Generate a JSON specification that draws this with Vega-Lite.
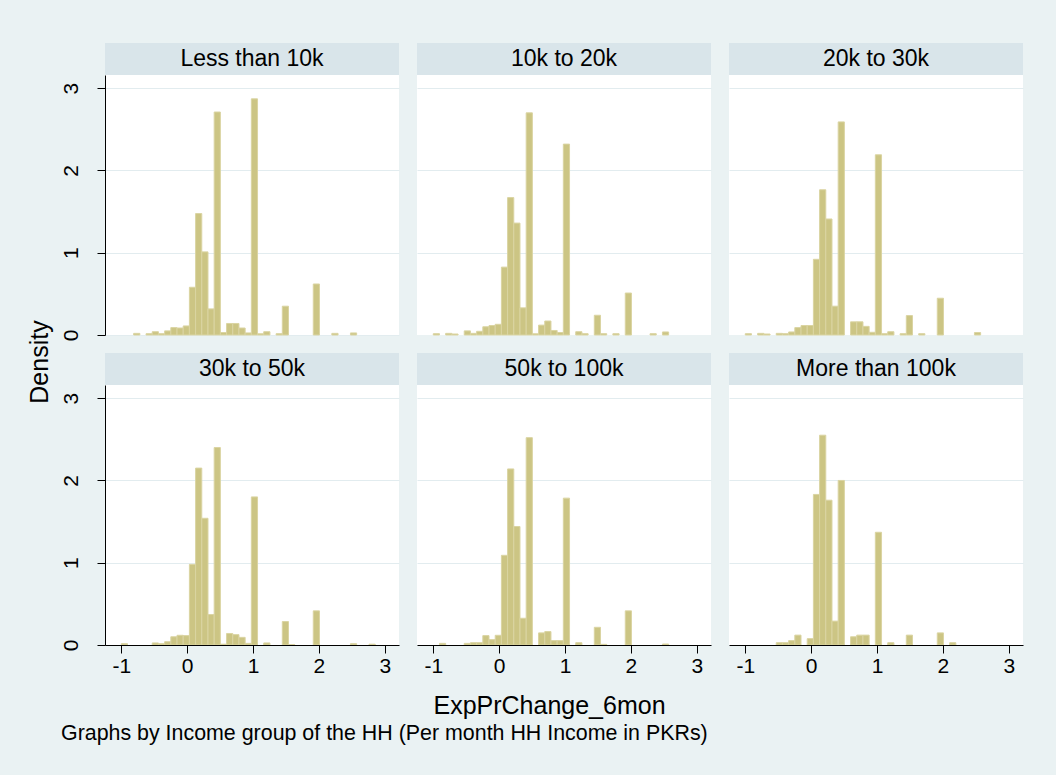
{
  "$schema": "https://vega.github.io/schema/vega-lite/v6.json",
  "background": "#EAF2F3",
  "padding": {"left": 20, "top": 43, "right": 33, "bottom": 30},
  "config": {
    "font": "Liberation Sans",
    "view": {"stroke": null},
    "axis": {
      "labelFont": "Liberation Sans",
      "labelColor": "#000000",
      "labelFontSize": 21,
      "labelExpr": "replace(datum.label, '\u2212', '-')",
      "domainColor": "#000000",
      "tickColor": "#000000",
      "tickSize": 8,
      "gridColor": "#E2ECEF",
      "gridWidth": 1.2,
      "titleFont": "Liberation Sans",
      "titleFontWeight": "normal",
      "titleColor": "#000000"
    },
    "title": {"font": "Liberation Sans", "fontWeight": "normal", "color": "#000000"}
  },
  "title": {
    "text": "Graphs by Income group of the HH (Per month HH Income in PKRs)",
    "orient": "bottom",
    "anchor": "start",
    "fontSize": 21.4,
    "dx": 41,
    "offset": 5
  },
  "datasets": {
    "hist": [
      {"g": "Less than 10k", "lo": -0.812, "hi": -0.718, "d": 0.02},
      {"g": "Less than 10k", "lo": -0.624, "hi": -0.53, "d": 0.016},
      {"g": "Less than 10k", "lo": -0.53, "hi": -0.436, "d": 0.04},
      {"g": "Less than 10k", "lo": -0.436, "hi": -0.342, "d": 0.016},
      {"g": "Less than 10k", "lo": -0.342, "hi": -0.248, "d": 0.05},
      {"g": "Less than 10k", "lo": -0.248, "hi": -0.154, "d": 0.09},
      {"g": "Less than 10k", "lo": -0.154, "hi": -0.06, "d": 0.085},
      {"g": "Less than 10k", "lo": -0.06, "hi": 0.034, "d": 0.11},
      {"g": "Less than 10k", "lo": 0.034, "hi": 0.128, "d": 0.58},
      {"g": "Less than 10k", "lo": 0.128, "hi": 0.222, "d": 1.476},
      {"g": "Less than 10k", "lo": 0.222, "hi": 0.316, "d": 1.01},
      {"g": "Less than 10k", "lo": 0.316, "hi": 0.41, "d": 0.317},
      {"g": "Less than 10k", "lo": 0.41, "hi": 0.504, "d": 2.71},
      {"g": "Less than 10k", "lo": 0.504, "hi": 0.598, "d": 0.03},
      {"g": "Less than 10k", "lo": 0.598, "hi": 0.692, "d": 0.14},
      {"g": "Less than 10k", "lo": 0.692, "hi": 0.786, "d": 0.14},
      {"g": "Less than 10k", "lo": 0.786, "hi": 0.88, "d": 0.085},
      {"g": "Less than 10k", "lo": 0.88, "hi": 0.974, "d": 0.025},
      {"g": "Less than 10k", "lo": 0.974, "hi": 1.068, "d": 2.87},
      {"g": "Less than 10k", "lo": 1.068, "hi": 1.162, "d": 0.015},
      {"g": "Less than 10k", "lo": 1.162, "hi": 1.256, "d": 0.04},
      {"g": "Less than 10k", "lo": 1.35, "hi": 1.444, "d": 0.016},
      {"g": "Less than 10k", "lo": 1.444, "hi": 1.538, "d": 0.35},
      {"g": "Less than 10k", "lo": 1.914, "hi": 2.008, "d": 0.62},
      {"g": "Less than 10k", "lo": 2.196, "hi": 2.29, "d": 0.02},
      {"g": "Less than 10k", "lo": 2.478, "hi": 2.572, "d": 0.025},

      {"g": "10k to 20k", "lo": -1.0, "hi": -0.906, "d": 0.016},
      {"g": "10k to 20k", "lo": -0.812, "hi": -0.718, "d": 0.02},
      {"g": "10k to 20k", "lo": -0.718, "hi": -0.624, "d": 0.012},
      {"g": "10k to 20k", "lo": -0.53, "hi": -0.436, "d": 0.05},
      {"g": "10k to 20k", "lo": -0.436, "hi": -0.342, "d": 0.02},
      {"g": "10k to 20k", "lo": -0.342, "hi": -0.248, "d": 0.045},
      {"g": "10k to 20k", "lo": -0.248, "hi": -0.154, "d": 0.1},
      {"g": "10k to 20k", "lo": -0.154, "hi": -0.06, "d": 0.115},
      {"g": "10k to 20k", "lo": -0.06, "hi": 0.034, "d": 0.13},
      {"g": "10k to 20k", "lo": 0.034, "hi": 0.128, "d": 0.825},
      {"g": "10k to 20k", "lo": 0.128, "hi": 0.222, "d": 1.67},
      {"g": "10k to 20k", "lo": 0.222, "hi": 0.316, "d": 1.36},
      {"g": "10k to 20k", "lo": 0.316, "hi": 0.41, "d": 0.33},
      {"g": "10k to 20k", "lo": 0.41, "hi": 0.504, "d": 2.7},
      {"g": "10k to 20k", "lo": 0.504, "hi": 0.598, "d": 0.015},
      {"g": "10k to 20k", "lo": 0.598, "hi": 0.692, "d": 0.12},
      {"g": "10k to 20k", "lo": 0.692, "hi": 0.786, "d": 0.17},
      {"g": "10k to 20k", "lo": 0.786, "hi": 0.88, "d": 0.055},
      {"g": "10k to 20k", "lo": 0.88, "hi": 0.974, "d": 0.03},
      {"g": "10k to 20k", "lo": 0.974, "hi": 1.068, "d": 2.32},
      {"g": "10k to 20k", "lo": 1.162, "hi": 1.256, "d": 0.04},
      {"g": "10k to 20k", "lo": 1.256, "hi": 1.35, "d": 0.016},
      {"g": "10k to 20k", "lo": 1.444, "hi": 1.538, "d": 0.24},
      {"g": "10k to 20k", "lo": 1.538, "hi": 1.632, "d": 0.016},
      {"g": "10k to 20k", "lo": 1.726, "hi": 1.82, "d": 0.016},
      {"g": "10k to 20k", "lo": 1.914, "hi": 2.008, "d": 0.51},
      {"g": "10k to 20k", "lo": 2.29, "hi": 2.384, "d": 0.016},
      {"g": "10k to 20k", "lo": 2.478, "hi": 2.572, "d": 0.037},

      {"g": "20k to 30k", "lo": -1.0, "hi": -0.906, "d": 0.016},
      {"g": "20k to 30k", "lo": -0.812, "hi": -0.718, "d": 0.02},
      {"g": "20k to 30k", "lo": -0.718, "hi": -0.624, "d": 0.012},
      {"g": "20k to 30k", "lo": -0.53, "hi": -0.436, "d": 0.02},
      {"g": "20k to 30k", "lo": -0.436, "hi": -0.342, "d": 0.016},
      {"g": "20k to 30k", "lo": -0.342, "hi": -0.248, "d": 0.037},
      {"g": "20k to 30k", "lo": -0.248, "hi": -0.154, "d": 0.09},
      {"g": "20k to 30k", "lo": -0.154, "hi": -0.06, "d": 0.115},
      {"g": "20k to 30k", "lo": -0.06, "hi": 0.034, "d": 0.115},
      {"g": "20k to 30k", "lo": 0.034, "hi": 0.128, "d": 0.92},
      {"g": "20k to 30k", "lo": 0.128, "hi": 0.222, "d": 1.765},
      {"g": "20k to 30k", "lo": 0.222, "hi": 0.316, "d": 1.41},
      {"g": "20k to 30k", "lo": 0.316, "hi": 0.41, "d": 0.35},
      {"g": "20k to 30k", "lo": 0.41, "hi": 0.504, "d": 2.59},
      {"g": "20k to 30k", "lo": 0.598, "hi": 0.692, "d": 0.16},
      {"g": "20k to 30k", "lo": 0.692, "hi": 0.786, "d": 0.16},
      {"g": "20k to 30k", "lo": 0.786, "hi": 0.88, "d": 0.105},
      {"g": "20k to 30k", "lo": 0.88, "hi": 0.974, "d": 0.033},
      {"g": "20k to 30k", "lo": 0.974, "hi": 1.068, "d": 2.19},
      {"g": "20k to 30k", "lo": 1.068, "hi": 1.162, "d": 0.016},
      {"g": "20k to 30k", "lo": 1.162, "hi": 1.256, "d": 0.04},
      {"g": "20k to 30k", "lo": 1.35, "hi": 1.444, "d": 0.016},
      {"g": "20k to 30k", "lo": 1.444, "hi": 1.538, "d": 0.236},
      {"g": "20k to 30k", "lo": 1.632, "hi": 1.726, "d": 0.016},
      {"g": "20k to 30k", "lo": 1.914, "hi": 2.008, "d": 0.447},
      {"g": "20k to 30k", "lo": 2.478, "hi": 2.572, "d": 0.03},

      {"g": "30k to 50k", "lo": -1.0, "hi": -0.906, "d": 0.016},
      {"g": "30k to 50k", "lo": -0.53, "hi": -0.436, "d": 0.025},
      {"g": "30k to 50k", "lo": -0.436, "hi": -0.342, "d": 0.016},
      {"g": "30k to 50k", "lo": -0.342, "hi": -0.248, "d": 0.04},
      {"g": "30k to 50k", "lo": -0.248, "hi": -0.154, "d": 0.1},
      {"g": "30k to 50k", "lo": -0.154, "hi": -0.06, "d": 0.118},
      {"g": "30k to 50k", "lo": -0.06, "hi": 0.034, "d": 0.114},
      {"g": "30k to 50k", "lo": 0.034, "hi": 0.128, "d": 0.98},
      {"g": "30k to 50k", "lo": 0.128, "hi": 0.222, "d": 2.15},
      {"g": "30k to 50k", "lo": 0.222, "hi": 0.316, "d": 1.54},
      {"g": "30k to 50k", "lo": 0.316, "hi": 0.41, "d": 0.37},
      {"g": "30k to 50k", "lo": 0.41, "hi": 0.504, "d": 2.4},
      {"g": "30k to 50k", "lo": 0.504, "hi": 0.598, "d": 0.01},
      {"g": "30k to 50k", "lo": 0.598, "hi": 0.692, "d": 0.14},
      {"g": "30k to 50k", "lo": 0.692, "hi": 0.786, "d": 0.126},
      {"g": "30k to 50k", "lo": 0.786, "hi": 0.88, "d": 0.093},
      {"g": "30k to 50k", "lo": 0.88, "hi": 0.974, "d": 0.02},
      {"g": "30k to 50k", "lo": 0.974, "hi": 1.068, "d": 1.8},
      {"g": "30k to 50k", "lo": 1.162, "hi": 1.256, "d": 0.025},
      {"g": "30k to 50k", "lo": 1.444, "hi": 1.538, "d": 0.285},
      {"g": "30k to 50k", "lo": 1.538, "hi": 1.632, "d": 0.005},
      {"g": "30k to 50k", "lo": 1.914, "hi": 2.008, "d": 0.415},
      {"g": "30k to 50k", "lo": 2.478, "hi": 2.572, "d": 0.016},
      {"g": "30k to 50k", "lo": 2.76, "hi": 2.854, "d": 0.01},

      {"g": "50k to 100k", "lo": -0.906, "hi": -0.812, "d": 0.02},
      {"g": "50k to 100k", "lo": -0.53, "hi": -0.436, "d": 0.02},
      {"g": "50k to 100k", "lo": -0.436, "hi": -0.342, "d": 0.028},
      {"g": "50k to 100k", "lo": -0.342, "hi": -0.248, "d": 0.028},
      {"g": "50k to 100k", "lo": -0.248, "hi": -0.154, "d": 0.114},
      {"g": "50k to 100k", "lo": -0.154, "hi": -0.06, "d": 0.065},
      {"g": "50k to 100k", "lo": -0.06, "hi": 0.034, "d": 0.118},
      {"g": "50k to 100k", "lo": 0.034, "hi": 0.128, "d": 1.09},
      {"g": "50k to 100k", "lo": 0.128, "hi": 0.222, "d": 2.14},
      {"g": "50k to 100k", "lo": 0.222, "hi": 0.316, "d": 1.44},
      {"g": "50k to 100k", "lo": 0.316, "hi": 0.41, "d": 0.325},
      {"g": "50k to 100k", "lo": 0.41, "hi": 0.504, "d": 2.52},
      {"g": "50k to 100k", "lo": 0.598, "hi": 0.692, "d": 0.147},
      {"g": "50k to 100k", "lo": 0.692, "hi": 0.786, "d": 0.163},
      {"g": "50k to 100k", "lo": 0.786, "hi": 0.88, "d": 0.053},
      {"g": "50k to 100k", "lo": 0.88, "hi": 0.974, "d": 0.053},
      {"g": "50k to 100k", "lo": 0.974, "hi": 1.068, "d": 1.785},
      {"g": "50k to 100k", "lo": 1.162, "hi": 1.256, "d": 0.028},
      {"g": "50k to 100k", "lo": 1.444, "hi": 1.538, "d": 0.215},
      {"g": "50k to 100k", "lo": 1.538, "hi": 1.632, "d": 0.008},
      {"g": "50k to 100k", "lo": 1.914, "hi": 2.008, "d": 0.415},
      {"g": "50k to 100k", "lo": 2.478, "hi": 2.572, "d": 0.012},

      {"g": "More than 100k", "lo": -0.53, "hi": -0.436, "d": 0.028},
      {"g": "More than 100k", "lo": -0.436, "hi": -0.342, "d": 0.028},
      {"g": "More than 100k", "lo": -0.342, "hi": -0.248, "d": 0.053},
      {"g": "More than 100k", "lo": -0.248, "hi": -0.154, "d": 0.12},
      {"g": "More than 100k", "lo": -0.06, "hi": 0.034, "d": 0.077},
      {"g": "More than 100k", "lo": 0.034, "hi": 0.128, "d": 1.83},
      {"g": "More than 100k", "lo": 0.128, "hi": 0.222, "d": 2.55},
      {"g": "More than 100k", "lo": 0.222, "hi": 0.316, "d": 1.76},
      {"g": "More than 100k", "lo": 0.316, "hi": 0.41, "d": 0.29},
      {"g": "More than 100k", "lo": 0.41, "hi": 0.504, "d": 2.0},
      {"g": "More than 100k", "lo": 0.598, "hi": 0.692, "d": 0.1},
      {"g": "More than 100k", "lo": 0.692, "hi": 0.786, "d": 0.12},
      {"g": "More than 100k", "lo": 0.786, "hi": 0.88, "d": 0.12},
      {"g": "More than 100k", "lo": 0.974, "hi": 1.068, "d": 1.37},
      {"g": "More than 100k", "lo": 1.162, "hi": 1.256, "d": 0.028},
      {"g": "More than 100k", "lo": 1.444, "hi": 1.538, "d": 0.12},
      {"g": "More than 100k", "lo": 1.914, "hi": 2.008, "d": 0.147},
      {"g": "More than 100k", "lo": 2.102, "hi": 2.196, "d": 0.028}
    ]
  },
  "spacing": 0,
  "hconcat": [
    {
      "width": 40,
      "height": 638,
      "data": {"values": [{"t": "Density"}]},
      "mark": {"type": "text", "angle": 270, "fontSize": 25, "baseline": "middle", "color": "#000000"},
      "encoding": {"text": {"field": "t"}}
    },
    {
      "spacing": 12,
      "vconcat": [
        {
          "spacing": 18,
          "hconcat": [
            {
              "spacing": 0,
              "vconcat": [
                {
                  "width": 294, "height": 32,
                  "view": {"fill": "#D9E5EA", "stroke": null},
                  "data": {"values": [{"g": "Less than 10k"}]},
                  "mark": {"type": "text", "fontSize": 23, "baseline": "middle", "color": "#000000"},
                  "encoding": {"text": {"field": "g"}}
                },
                {
                  "width": 294, "height": 260,
                  "view": {"fill": "#FFFFFF", "stroke": null},
                  "data": {"name": "hist"},
                  "transform": [{"filter": {"field": "g", "equal": "Less than 10k"}}],
                  "mark": {"type": "bar", "fill": "#CCC584", "stroke": "#DAD4A2", "strokeWidth": 1},
                  "encoding": {
                    "x": {"field": "lo", "type": "quantitative", "scale": {"domain": [-1.247, 3.215], "nice": false, "zero": false}, "axis": null},
                    "x2": {"field": "hi"},
                    "y": {"field": "d", "type": "quantitative", "scale": {"domain": [0, 3.16], "nice": false},
                      "axis": {"values": [0, 1, 2, 3], "format": "d", "title": null, "labelAngle": -90, "labelPadding": 16, "grid": true}},
                    "y2": {"datum": 0}
                  }
                }
              ]
            },
            {
              "spacing": 0,
              "vconcat": [
                {
                  "width": 294, "height": 32,
                  "view": {"fill": "#D9E5EA", "stroke": null},
                  "data": {"values": [{"g": "10k to 20k"}]},
                  "mark": {"type": "text", "fontSize": 23, "baseline": "middle", "color": "#000000"},
                  "encoding": {"text": {"field": "g"}}
                },
                {
                  "width": 294, "height": 260,
                  "view": {"fill": "#FFFFFF", "stroke": null},
                  "data": {"name": "hist"},
                  "transform": [{"filter": {"field": "g", "equal": "10k to 20k"}}],
                  "mark": {"type": "bar", "fill": "#CCC584", "stroke": "#DAD4A2", "strokeWidth": 1},
                  "encoding": {
                    "x": {"field": "lo", "type": "quantitative", "scale": {"domain": [-1.247, 3.215], "nice": false, "zero": false}, "axis": null},
                    "x2": {"field": "hi"},
                    "y": {"field": "d", "type": "quantitative", "scale": {"domain": [0, 3.16], "nice": false},
                      "axis": {"values": [1, 2, 3], "title": null, "labels": false, "ticks": false, "domain": false, "grid": true}},
                    "y2": {"datum": 0}
                  }
                }
              ]
            },
            {
              "spacing": 0,
              "vconcat": [
                {
                  "width": 294, "height": 32,
                  "view": {"fill": "#D9E5EA", "stroke": null},
                  "data": {"values": [{"g": "20k to 30k"}]},
                  "mark": {"type": "text", "fontSize": 23, "baseline": "middle", "color": "#000000"},
                  "encoding": {"text": {"field": "g"}}
                },
                {
                  "width": 294, "height": 260,
                  "view": {"fill": "#FFFFFF", "stroke": null},
                  "data": {"name": "hist"},
                  "transform": [{"filter": {"field": "g", "equal": "20k to 30k"}}],
                  "mark": {"type": "bar", "fill": "#CCC584", "stroke": "#DAD4A2", "strokeWidth": 1},
                  "encoding": {
                    "x": {"field": "lo", "type": "quantitative", "scale": {"domain": [-1.247, 3.215], "nice": false, "zero": false}, "axis": null},
                    "x2": {"field": "hi"},
                    "y": {"field": "d", "type": "quantitative", "scale": {"domain": [0, 3.16], "nice": false},
                      "axis": {"values": [1, 2, 3], "title": null, "labels": false, "ticks": false, "domain": false, "grid": true}},
                    "y2": {"datum": 0}
                  }
                }
              ]
            }
          ]
        },
        {
          "spacing": 18,
          "hconcat": [
            {
              "spacing": 0,
              "vconcat": [
                {
                  "width": 294, "height": 32,
                  "view": {"fill": "#D9E5EA", "stroke": null},
                  "data": {"values": [{"g": "30k to 50k"}]},
                  "mark": {"type": "text", "fontSize": 23, "baseline": "middle", "color": "#000000"},
                  "encoding": {"text": {"field": "g"}}
                },
                {
                  "width": 294, "height": 260,
                  "view": {"fill": "#FFFFFF", "stroke": null},
                  "data": {"name": "hist"},
                  "transform": [{"filter": {"field": "g", "equal": "30k to 50k"}}],
                  "mark": {"type": "bar", "fill": "#CCC584", "stroke": "#DAD4A2", "strokeWidth": 1},
                  "encoding": {
                    "x": {"field": "lo", "type": "quantitative", "scale": {"domain": [-1.247, 3.215], "nice": false, "zero": false},
                      "axis": {"values": [-1, 0, 1, 2, 3], "format": "d", "title": null, "labelPadding": 2, "labelFlush": false, "grid": false, "zindex": 1}},
                    "x2": {"field": "hi"},
                    "y": {"field": "d", "type": "quantitative", "scale": {"domain": [0, 3.16], "nice": false},
                      "axis": {"values": [0, 1, 2, 3], "format": "d", "title": null, "labelAngle": -90, "labelPadding": 16, "grid": true}},
                    "y2": {"datum": 0}
                  }
                }
              ]
            },
            {
              "spacing": 0,
              "vconcat": [
                {
                  "width": 294, "height": 32,
                  "view": {"fill": "#D9E5EA", "stroke": null},
                  "data": {"values": [{"g": "50k to 100k"}]},
                  "mark": {"type": "text", "fontSize": 23, "baseline": "middle", "color": "#000000"},
                  "encoding": {"text": {"field": "g"}}
                },
                {
                  "width": 294, "height": 260,
                  "view": {"fill": "#FFFFFF", "stroke": null},
                  "data": {"name": "hist"},
                  "transform": [{"filter": {"field": "g", "equal": "50k to 100k"}}],
                  "mark": {"type": "bar", "fill": "#CCC584", "stroke": "#DAD4A2", "strokeWidth": 1},
                  "encoding": {
                    "x": {"field": "lo", "type": "quantitative", "scale": {"domain": [-1.247, 3.215], "nice": false, "zero": false},
                      "axis": {"values": [-1, 0, 1, 2, 3], "format": "d", "title": "ExpPrChange_6mon", "titleFontSize": 25, "titleX": 132, "titleY": 68, "titleBaseline": "alphabetic", "labelPadding": 2, "labelFlush": false, "grid": false, "zindex": 1}},
                    "x2": {"field": "hi"},
                    "y": {"field": "d", "type": "quantitative", "scale": {"domain": [0, 3.16], "nice": false},
                      "axis": {"values": [1, 2, 3], "title": null, "labels": false, "ticks": false, "domain": false, "grid": true}},
                    "y2": {"datum": 0}
                  }
                }
              ]
            },
            {
              "spacing": 0,
              "vconcat": [
                {
                  "width": 294, "height": 32,
                  "view": {"fill": "#D9E5EA", "stroke": null},
                  "data": {"values": [{"g": "More than 100k"}]},
                  "mark": {"type": "text", "fontSize": 23, "baseline": "middle", "color": "#000000"},
                  "encoding": {"text": {"field": "g"}}
                },
                {
                  "width": 294, "height": 260,
                  "view": {"fill": "#FFFFFF", "stroke": null},
                  "data": {"name": "hist"},
                  "transform": [{"filter": {"field": "g", "equal": "More than 100k"}}],
                  "mark": {"type": "bar", "fill": "#CCC584", "stroke": "#DAD4A2", "strokeWidth": 1},
                  "encoding": {
                    "x": {"field": "lo", "type": "quantitative", "scale": {"domain": [-1.247, 3.215], "nice": false, "zero": false},
                      "axis": {"values": [-1, 0, 1, 2, 3], "format": "d", "title": null, "labelPadding": 2, "labelFlush": false, "grid": false, "zindex": 1}},
                    "x2": {"field": "hi"},
                    "y": {"field": "d", "type": "quantitative", "scale": {"domain": [0, 3.16], "nice": false},
                      "axis": {"values": [1, 2, 3], "title": null, "labels": false, "ticks": false, "domain": false, "grid": true}},
                    "y2": {"datum": 0}
                  }
                }
              ]
            }
          ]
        }
      ]
    }
  ]
}
